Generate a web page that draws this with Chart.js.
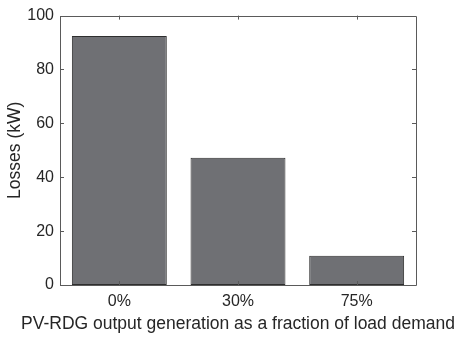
<!DOCTYPE html>
<html>
<head>
<meta charset="utf-8">
<script src="https://cdn.jsdelivr.net/npm/chart.js@4/dist/chart.umd.min.js"></script>
<style>
  html, body { margin: 0; padding: 0; background: #fff; }
  #wrap { width: 458px; height: 337px; }
</style>
</head>
<body>
<div id="wrap"><canvas id="lossChart" width="458" height="337"></canvas></div>
<script>
const categories = ['0%', '30%', '75%'];
const losses = [92.4, 47.2, 10.9];
const yTicks = [0, 20, 40, 60, 80, 100];
const xTitle = 'PV-RDG output generation as a fraction of load demand';

const axisColor = '#5a5a5a';
const textColor = '#262626';
const fontFamily = '"Liberation Sans", Arial, Helvetica, sans-serif';

// box around the axes with short inward tick marks on all four sides,
// plus the x label (drawn here so it is not squeezed to the axis width)
const boxAxes = {
  id: 'boxAxes',
  afterDraw(chart) {
    const { ctx, chartArea: a, scales } = chart;
    const len = 4;
    ctx.save();
    ctx.strokeStyle = axisColor;
    ctx.lineWidth = 1;
    ctx.beginPath();
    ctx.rect(Math.round(a.left) + 0.5, Math.round(a.top) + 0.5,
      Math.round(a.right - a.left), Math.round(a.bottom - a.top));
    yTicks.forEach(v => {
      const y = Math.round(scales.y.getPixelForValue(v)) + 0.5;
      ctx.moveTo(a.left, y); ctx.lineTo(a.left + len, y);
      ctx.moveTo(a.right, y); ctx.lineTo(a.right - len, y);
    });
    categories.forEach((c, i) => {
      const x = Math.round(scales.x.getPixelForValue(i)) + 0.5;
      ctx.moveTo(x, a.bottom); ctx.lineTo(x, a.bottom - len);
      ctx.moveTo(x, a.top); ctx.lineTo(x, a.top + len);
    });
    ctx.stroke();

    ctx.fillStyle = textColor;
    ctx.font = '17.5px ' + fontFamily;
    ctx.textAlign = 'center';
    ctx.textBaseline = 'alphabetic';
    ctx.fillText(xTitle, (a.left + a.right) / 2, a.bottom + 44);
    ctx.restore();
  }
};

new Chart(document.getElementById('lossChart'), {
  type: 'bar',
  data: {
    labels: categories,
    datasets: [{
      data: losses,
      backgroundColor: '#6f7074',
      borderColor: '#2e2e2e',
      borderWidth: 1,
      borderSkipped: false,
      barPercentage: 0.8,
      categoryPercentage: 1
    }]
  },
  options: {
    responsive: false,
    animation: false,
    layout: { padding: { top: 11, right: 42, bottom: 0, left: 0 } },
    plugins: { legend: { display: false }, tooltip: { enabled: false } },
    scales: {
      x: {
        afterFit: s => { s.height = 52; },
        grid: { display: false, drawTicks: false },
        border: { display: false },
        ticks: { color: textColor, font: { family: fontFamily, size: 16 }, padding: 7 }
      },
      y: {
        min: 0,
        max: 100,
        afterFit: s => { s.width = 60; },
        afterBuildTicks: s => { s.ticks = yTicks.map(v => ({ value: v })); },
        grid: { display: false, drawTicks: false },
        border: { display: false },
        ticks: { color: textColor, font: { family: fontFamily, size: 16 }, padding: 6 },
        title: {
          display: true,
          text: 'Losses (kW)',
          color: textColor,
          font: { family: fontFamily, size: 17.5 },
          padding: { top: 5, bottom: 4 }
        }
      }
    }
  },
  plugins: [boxAxes]
});
</script>
</body>
</html>
